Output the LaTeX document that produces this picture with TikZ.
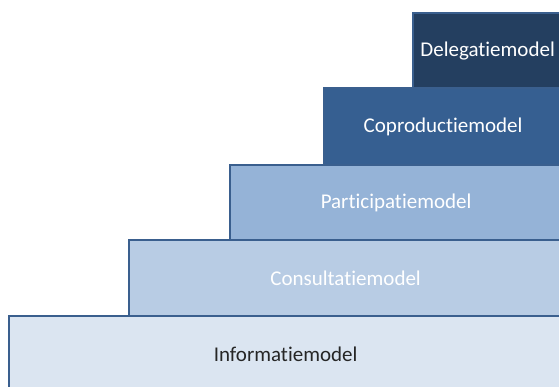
\documentclass[tikz,border=0pt]{standalone}
\usepackage{fontspec}
\setmainfont[Ligatures=NoCommon]{Carlito}
\definecolor{edge}{HTML}{3A5F8E}
\definecolor{c1}{HTML}{243F60}
\definecolor{c2}{HTML}{365F91}
\definecolor{c3}{HTML}{95B3D7}
\definecolor{c4}{HTML}{B8CCE4}
\definecolor{c5}{HTML}{DBE5F1}
\tikzset{
  stepbox/.style={draw=edge, line width=2.2pt, rectangle, anchor=north west, inner sep=0pt,
    font=\fontsize{21}{25}\selectfont, text=white},
}
\begin{document}
\begin{tikzpicture}[x=1pt,y=-1pt]
\useasboundingbox (0,0) rectangle (559,387);
\clip (0,0) rectangle (559,387);
\node[stepbox, fill=c5, text=black!85, minimum width=553pt, minimum height=76pt] (inf) at (8,315) {Informatiemodel};
\node[stepbox, fill=c4, minimum width=433pt, minimum height=76pt] (con) at (128,239) {Consultatiemodel};
\node[stepbox, fill=c3, minimum width=332pt, minimum height=75pt] (par) at (229,164) {Participatiemodel};
\node[stepbox, fill=c2, minimum width=238pt, minimum height=77pt] (cop) at (323,87) {Coproductiemodel};
\node[stepbox, fill=c1, minimum width=149pt, minimum height=75pt] (del) at (412,12) {Delegatiemodel};
\end{tikzpicture}
\end{document}
